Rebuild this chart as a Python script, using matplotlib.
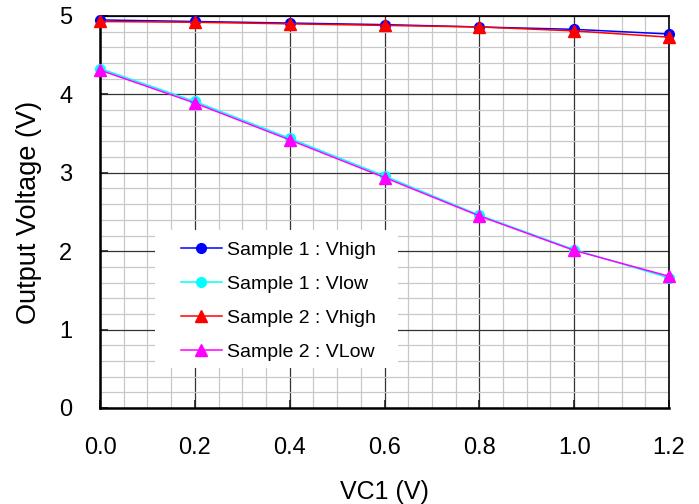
import matplotlib
matplotlib.use("Agg")
import matplotlib.pyplot as plt
from matplotlib.patches import Rectangle
from matplotlib.ticker import MultipleLocator

# ---------- DATA ----------
vc1 = [0.0, 0.2, 0.4, 0.6, 0.8, 1.0, 1.2]
s1_vhigh = [4.95, 4.93, 4.91, 4.89, 4.86, 4.83, 4.77]
s1_vlow = [4.33, 3.91, 3.44, 2.96, 2.46, 2.02, 1.66]
s2_vhigh = [4.93, 4.92, 4.90, 4.88, 4.86, 4.81, 4.73]
s2_vlow = [4.31, 3.89, 3.42, 2.94, 2.45, 2.01, 1.68]
labels = ["Sample 1 : Vhigh", "Sample 1 : Vlow", "Sample 2 : Vhigh", "Sample 2 : VLow"]
# ---------------------------

plt.rcParams["font.family"] = ["Liberation Sans", "DejaVu Sans"]

fig = plt.figure(figsize=(6.99, 5.04), dpi=100)
ax = fig.add_axes([100 / 699, 1 - 408 / 504, 569 / 699, 392 / 504])

series = [
    (s1_vhigh, "#0000ff", "o", 7),
    (s1_vlow, "#00ffff", "o", 7),
    (s2_vhigh, "#ff0000", "^", 8),
    (s2_vlow, "#ff00ff", "^", 8),
]
for (vals, col, mk, ms), lab in zip(series, labels):
    ax.plot(vc1, vals, color=col, marker=mk, markersize=ms, linewidth=1.1,
            label=lab, clip_on=False, zorder=3)

ax.set_xlim(0, 1.2)
ax.set_ylim(0, 5)
ax.xaxis.set_major_locator(MultipleLocator(0.2))
ax.xaxis.set_minor_locator(MultipleLocator(0.05))
ax.yaxis.set_major_locator(MultipleLocator(1))
ax.yaxis.set_minor_locator(MultipleLocator(0.2))
ax.set_xticklabels([f"{v:.1f}" for v in ax.get_xticks()])

ax.grid(True, which="major", color="#333333", linewidth=0.9)
ax.grid(True, which="minor", color="#c8c8c8", linewidth=0.9)
ax.set_axisbelow(True)

ax.tick_params(which="major", direction="in", length=6, width=1.2, color="#222222",
               labelsize=17, pad=20)
ax.tick_params(axis="x", which="major", pad=21)
ax.tick_params(which="minor", length=0)
for side in ["left", "bottom"]:
    ax.spines[side].set_linewidth(1.8)
for side in ["top", "right"]:
    ax.spines[side].set_linewidth(1.2)

ax.set_xlabel("VC1 (V)", fontsize=18, labelpad=15)
ax.set_ylabel("Output Voltage (V)", fontsize=19.5, labelpad=12)

# white panel behind the legend, covering the grid
ax.add_patch(Rectangle((0.0967, 0.102), 0.427, 0.352, transform=ax.transAxes,
                       facecolor="white", edgecolor="none", zorder=2.5))

leg = ax.legend(loc="upper left", bbox_to_anchor=(0.1424, 0.426), borderaxespad=0,
                fontsize=14, frameon=False, handlelength=2.1, handletextpad=0.26,
                labelspacing=0.85, borderpad=0)
leg.set_zorder(5)

fig.savefig("out.png", dpi=100)
